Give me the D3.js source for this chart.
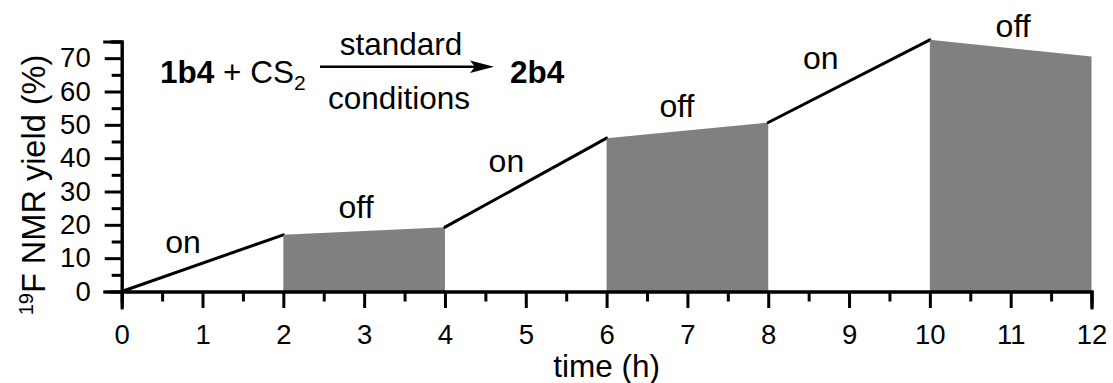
<!DOCTYPE html>
<html>
<head>
<meta charset="utf-8">
<script src="https://cdn.jsdelivr.net/npm/d3@7"></script>
<style>
  body { margin: 0; background: #fff; }
  svg { display: block; font-family: "Liberation Sans", Arial, sans-serif; }
</style>
</head>
<body>
<div id="chart"></div>
<script>
// data
const hours = [0, 2, 4, 6, 8, 10, 12];
const yieldPct = [0, 17, 19.3, 46, 50.7, 75.5, 70.5];
const phases = ["on", "off", "on", "off", "on", "off"];
const xTicks = [0, 1, 2, 3, 4, 5, 6, 7, 8, 9, 10, 11, 12];
const yTicks = [0, 10, 20, 30, 40, 50, 60, 70];
// label anchor for each phase (hours, yield)
const labelX = [0.76, 2.9, 4.76, 6.87, 8.65, 11.03];
const labelY = [11.6, 22, 36, 52.5, 66.8, 76.5];

const width = 1113, height = 383;

const svg = d3.select("#chart")
    .append("svg")
    .attr("width", width)
    .attr("height", height);

const xScale = d3.scaleLinear().domain([0, 12]).range([121.7, 1091.5]);
const yScale = d3.scaleLinear().domain([0, 75]).range([291.5, 41.5]);

const points = hours.map((h, i) => ({ h: h, v: yieldPct[i] }));

// grey areas for dark ("off") periods
const area = d3.area()
    .x(d => xScale(d.h))
    .y0(yScale(0))
    .y1(d => yScale(d.v));

const line = d3.line()
    .x(d => xScale(d.h))
    .y(d => yScale(d.v));

phases.forEach((p, i) => {
    const seg = [points[i], points[i + 1]];
    if (p === "off") {
        svg.append("path")
            .attr("d", area(seg))
            .attr("fill", "#808080");
    } else {
        svg.append("path")
            .attr("d", line(seg))
            .attr("fill", "none")
            .attr("stroke", "#000")
            .attr("stroke-width", 3)
            .attr("stroke-linecap", "round");
    }
});

// axes
const xMinor = d3.axisBottom(xScale)
    .tickValues(d3.range(0.5, 12, 1))
    .tickSize(10)
    .tickFormat("");
const xMajor = d3.axisBottom(xScale)
    .tickValues(xTicks)
    .tickSize(16.5)
    .tickPadding(16)
    .tickFormat(d3.format("d"));

const yMinor = d3.axisLeft(yScale)
    .tickValues(d3.range(5, 76, 10))
    .tickSize(10)
    .tickFormat("");
const yMajor = d3.axisLeft(yScale)
    .tickValues(yTicks)
    .tickSize(17)
    .tickPadding(14)
    .tickFormat(d3.format("d"));

[xMinor, xMajor].forEach(ax => {
    svg.append("g")
        .attr("class", "axis")
        .attr("transform", `translate(0,${yScale(0)})`)
        .call(ax);
});
[yMinor, yMajor].forEach(ax => {
    svg.append("g")
        .attr("class", "axis")
        .attr("transform", `translate(${xScale(0)},0)`)
        .call(ax);
});

svg.selectAll(".axis path, .axis line")
    .attr("stroke", "#000")
    .attr("stroke-width", 3);
svg.selectAll(".axis path")
    .attr("stroke-linecap", "square");
svg.selectAll(".axis text")
    .attr("fill", "#000")
    .attr("font-size", 27.5)
    .attr("font-family", "Liberation Sans, Arial, sans-serif");

// axis titles
svg.append("text")
    .text("time (h)")
    .attr("x", xScale(6))
    .attr("y", 377)
    .attr("text-anchor", "middle")
    .attr("font-size", 31.5);

const yTitle = svg.append("text")
    .attr("transform", "translate(45,185) rotate(-90)")
    .attr("text-anchor", "middle")
    .attr("font-size", 32.5);
yTitle.append("tspan").text("19").attr("font-size", 20).attr("dy", -12);
yTitle.append("tspan").text("F NMR yield (%)").attr("dy", 12);

// on / off labels
svg.selectAll(".phase")
    .data(phases)
    .join("text")
    .attr("class", "phase")
    .text(d => d)
    .attr("x", (d, i) => xScale(labelX[i]))
    .attr("y", (d, i) => yScale(labelY[i]))
    .attr("text-anchor", "middle")
    .attr("font-size", 32);

// reaction scheme
const scheme = svg.append("g").attr("font-size", 31.5);
const left = scheme.append("text").attr("x", 160).attr("y", 83);
left.append("tspan").text("1b4").attr("font-weight", "bold");
left.append("tspan").text(" + CS");
left.append("tspan").text("2").attr("font-size", 21).attr("dy", 7);

scheme.append("line")
    .attr("x1", 320).attr("x2", 478)
    .attr("y1", 66.7).attr("y2", 66.7)
    .attr("stroke", "#000")
    .attr("stroke-width", 2.4);
scheme.append("path")
    .attr("d", "M494,66.7 L470,60.5 L475,66.7 L470,72.9 Z")
    .attr("fill", "#000");

scheme.append("text").text("standard")
    .attr("x", 401).attr("y", 55)
    .attr("text-anchor", "middle");
scheme.append("text").text("conditions")
    .attr("x", 399).attr("y", 109)
    .attr("text-anchor", "middle");
scheme.append("text").text("2b4")
    .attr("x", 510).attr("y", 83)
    .attr("font-weight", "bold");
</script>
</body>
</html>
